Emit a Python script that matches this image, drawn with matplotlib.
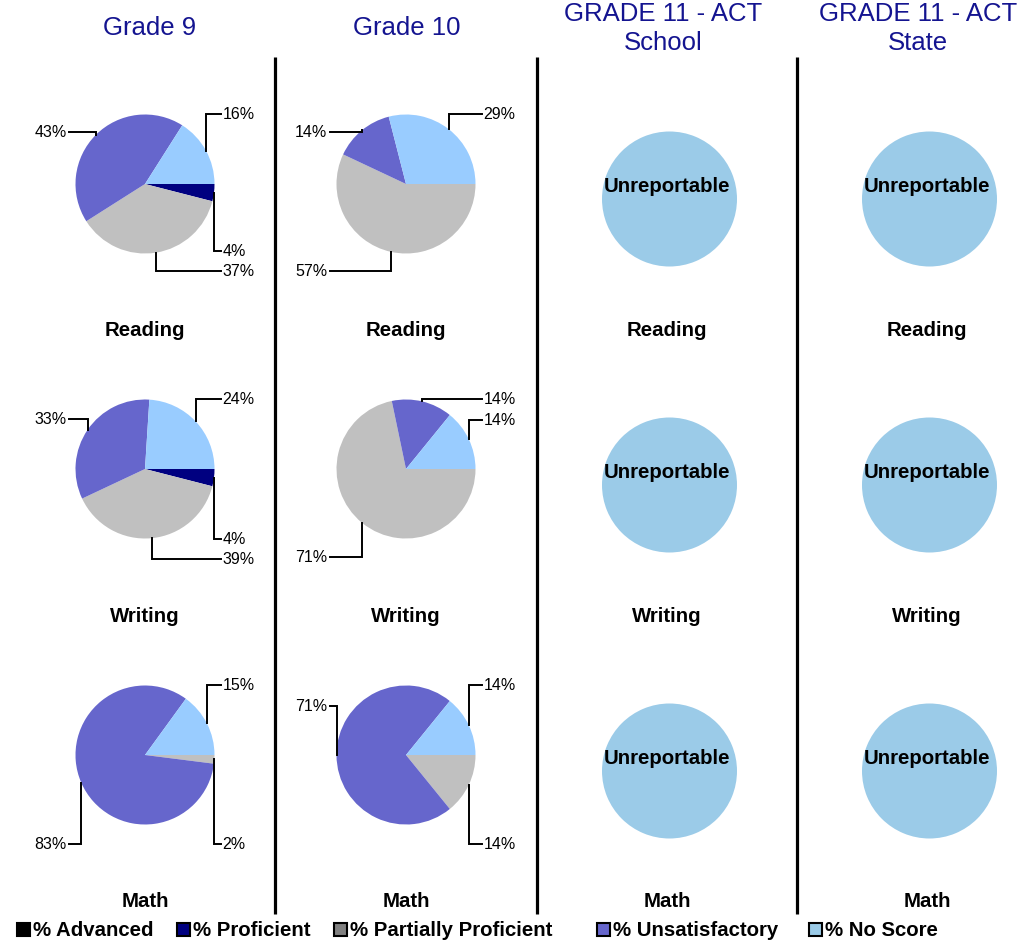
import numpy as np
import matplotlib
matplotlib.use("Agg")
import matplotlib.pyplot as plt
from matplotlib.patches import Rectangle

# ---------------- data ----------------
categories = ["% Advanced", "% Proficient", "% Partially Proficient", "% Unsatisfactory", "% No Score"]
column_titles = ["Grade 9", "Grade 10", "GRADE 11 - ACT\nSchool", "GRADE 11 - ACT\nState"]
subjects = ["Reading", "Writing", "Math"]

grade9_reading = [0, 4, 37, 43, 16]
grade9_writing = [0, 4, 39, 33, 24]
grade9_math = [0, 0, 2, 83, 15]
grade10_reading = [0, 0, 57, 14, 29]
grade10_writing = [0, 0, 71, 14, 14]
grade10_math = [0, 0, 14, 71, 14]
unreportable_text = "Unreportable"

# ---------------- style / layout ----------------
W, H = 1022, 945
slice_colors = ["#000000", "#000080", "#C0C0C0", "#6666CC", "#99CCFF"]
legend_colors = ["#000000", "#000080", "#808080", "#6666CC", "#9BCBE8"]
unrep_color = "#9BCBE8"
title_color = "#141490"

col_x = [145, 406, 667, 927]
title_x = [150, 407, 663, 918]
pie_row_y = [185, 470, 756]
unrep_row_y = [200, 486, 772]
unrep_text_y = [187, 473, 759]
subject_y = [331, 617, 902]
R = 69.5
R_unrep = 67.5
sep_x = [275, 537, 797]

# label vertical offsets (pixels from pie center) for each nonzero slice, in slice order
label_dy = {
    (0, 0): [67, 87, -52, -70],
    (1, 0): [87, -52, -70],
    (0, 1): [70, 90, -50, -70],
    (1, 1): [88, -70, -49],
    (0, 2): [89, 89, -70],
    (1, 2): [89, -49, -70],
}
pie_data = {
    (0, 0): grade9_reading, (0, 1): grade9_writing, (0, 2): grade9_math,
    (1, 0): grade10_reading, (1, 1): grade10_writing, (1, 2): grade10_math,
}

bold_font = ["Liberation Sans", "DejaVu Sans"]
reg = ["Liberation Sans", "DejaVu Sans"]
BOLD_SIZE = 14.7

fig = plt.figure(figsize=(W / 100, H / 100), dpi=100)
ax = fig.add_axes([0, 0, 1, 1])


def Y(y):
    return H - y


# titles
for c, t in enumerate(column_titles):
    lines = t.split("\n")
    if len(lines) == 1:
        ax.text(title_x[c], Y(28), t, ha="center", va="center", fontsize=18.5,
                color=title_color, family=reg)
    else:
        ax.text(title_x[c], Y(14), lines[0], ha="center", va="center", fontsize=18.5,
                color=title_color, family=reg)
        ax.text(title_x[c], Y(43), lines[1], ha="center", va="center", fontsize=18.5,
                color=title_color, family=reg)

# separators
for x in sep_x:
    ax.plot([x, x], [Y(58), Y(915)], color="black", lw=2.3, solid_capstyle="butt")

# pies for grade 9 / 10
for (c, r), vals in pie_data.items():
    cx, cy = col_x[c], pie_row_y[r]
    ax.pie(vals, colors=slice_colors, startangle=0, counterclock=False,
           center=(cx, Y(cy)), radius=R, frame=True,
           wedgeprops=dict(linewidth=0, antialiased=True))
    total = float(sum(vals))
    cum = 0.0
    k = 0
    for v in vals:
        if v == 0:
            continue
        t1 = -360.0 * cum / total
        cum += v
        t2 = -360.0 * cum / total
        mid = np.deg2rad((t1 + t2) / 2.0)
        ex = cx + R * np.cos(mid)
        ey = Y(cy) + R * np.sin(mid)
        ly = Y(cy + label_dy[(c, r)][k])
        k += 1
        if np.cos(mid) >= 0:
            xe = cx + R + 6
            ax.plot([ex, ex, xe], [ey, ly, ly], color="black", lw=1.4,
                    solid_joinstyle="miter")
            ax.text(cx + R + 8, ly, f"{v}%", ha="left", va="center", fontsize=11.5,
                    family=reg)
        else:
            xe = cx - R - 7
            ax.plot([ex, ex, xe], [ey, ly, ly], color="black", lw=1.4,
                    solid_joinstyle="miter")
            ax.text(cx - R - 9, ly, f"{v}%", ha="right", va="center", fontsize=11.5,
                    family=reg)

# unreportable circles
for c in (2, 3):
    for r in range(3):
        ax.pie([1], colors=[unrep_color], center=(col_x[c] + 2.5, Y(unrep_row_y[r])),
               radius=R_unrep, frame=True, wedgeprops=dict(linewidth=0))
        ax.text(col_x[c], Y(unrep_text_y[r]), unreportable_text, ha="center", va="center",
                fontsize=BOLD_SIZE, fontweight="bold", family=bold_font)

# subject labels
for c in range(4):
    for r, s in enumerate(subjects):
        ax.text(col_x[c], Y(subject_y[r]), s, ha="center", va="center",
                fontsize=BOLD_SIZE, fontweight="bold", family=bold_font)

# legend
leg_x = [16, 176, 333, 596, 808]
for i, lab in enumerate(categories):
    ax.add_patch(Rectangle((leg_x[i] + 1, Y(937)), 13, 13, facecolor=legend_colors[i],
                           edgecolor="black", lw=1.5))
    ax.text(leg_x[i] + 17, Y(931), lab, ha="left", va="center", fontsize=BOLD_SIZE,
            fontweight="bold", family=bold_font)

ax.set_xlim(0, W)
ax.set_ylim(0, H)
ax.set_aspect("auto")
ax.axis("off")
fig.savefig("out.png", dpi=100)
